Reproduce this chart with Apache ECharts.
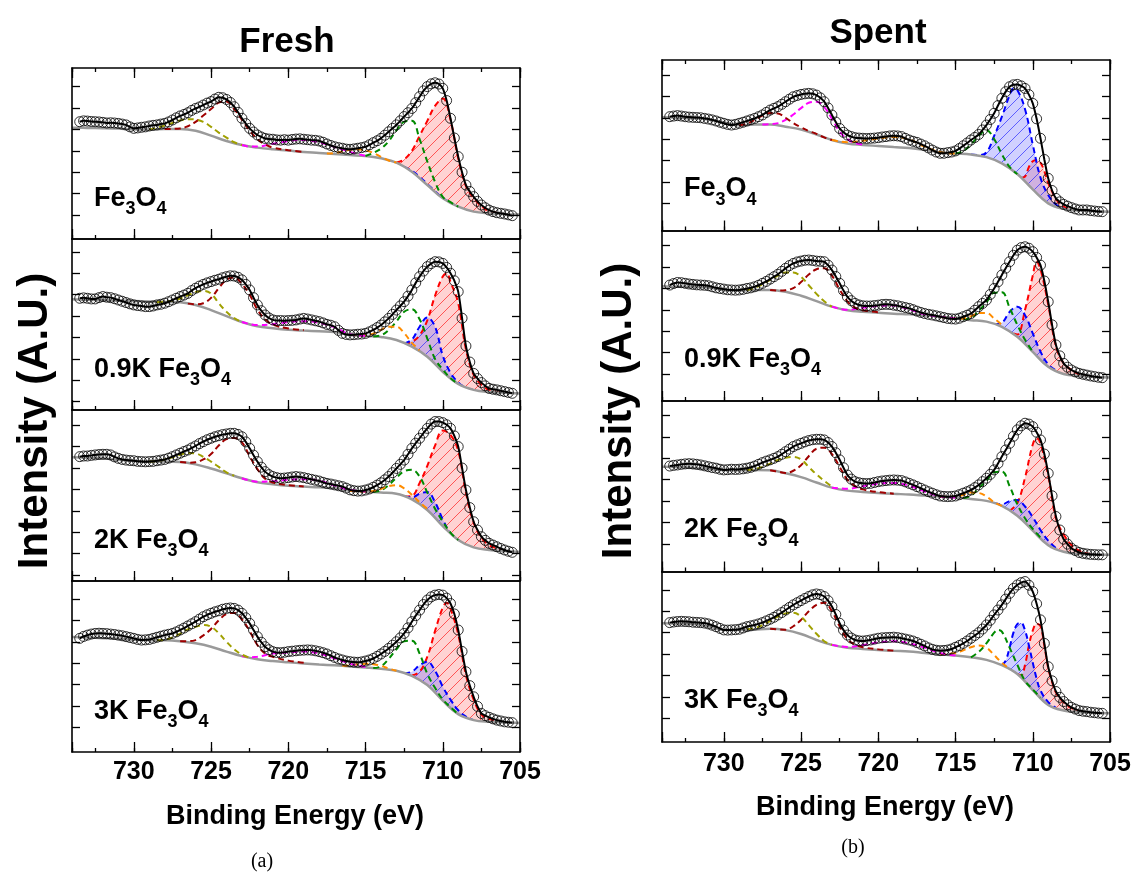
<!DOCTYPE html>
<html><head><meta charset="utf-8">
<script src="https://cdn.jsdelivr.net/npm/echarts@6/dist/echarts.min.js"></script>
<style>html,body{margin:0;padding:0;background:#fff}#c{width:1134px;height:877px}</style>
</head><body><div id="c"></div>
<script>
// ---------- DATA ----------
const dataEnergy = [733.5,733.25,733,732.75,732.5,732.25,732,731.75,731.5,731.25,731,730.75,730.5,730.25,730,729.75,729.5,729.25,729,728.75,728.5,728.25,728,727.75,727.5,727.25,727,726.75,726.5,726.25,726,725.75,725.5,725.25,725,724.75,724.5,724.25,724,723.75,723.5,723.25,723,722.75,722.5,722.25,722,721.75,721.5,721.25,721,720.75,720.5,720.25,720,719.75,719.5,719.25,719,718.75,718.5,718.25,718,717.75,717.5,717.25,717,716.75,716.5,716.25,716,715.75,715.5,715.25,715,714.75,714.5,714.25,714,713.75,713.5,713.25,713,712.75,712.5,712.25,712,711.75,711.5,711.25,711,710.75,710.5,710.25,710,709.75,709.5,709.25,709,708.75,708.5,708.25,708,707.75,707.5,707.25,707,706.75,706.5,706.25,706,705.75,705.5];
const bgEnergy = [734,733,732,731,730,729,728,727,726,725,724,723,722,721,720,719,718,717,716,715,714,713,712,711,710,709,708,707,706,705];
const sampleNames = ['Fe3O4','0.9K Fe3O4','2K Fe3O4','3K Fe3O4'];
const panelTitles = ['Fresh','Spent'];

const freshData = [
 [4.36,4.40,4.39,4.37,4.36,4.35,4.33,4.30,4.31,4.30,4.28,4.25,4.21,4.12,4.05,4.07,4.10,4.12,4.16,4.19,4.21,4.25,4.28,4.35,4.44,4.54,4.63,4.70,4.78,4.89,4.98,5.05,5.14,5.23,5.30,5.42,5.50,5.48,5.40,5.26,5.06,4.80,4.52,4.27,4.05,3.88,3.74,3.65,3.58,3.55,3.54,3.51,3.50,3.52,3.50,3.53,3.55,3.56,3.54,3.52,3.50,3.49,3.46,3.40,3.32,3.25,3.19,3.15,3.12,3.08,3.07,3.09,3.12,3.15,3.19,3.28,3.38,3.47,3.58,3.73,3.89,4.05,4.21,4.40,4.60,4.78,4.98,5.25,5.53,5.80,6.00,6.13,6.18,6.12,5.92,5.35,4.52,3.60,2.73,2.00,1.40,1.10,0.86,0.64,0.47,0.34,0.23,0.16,0.11,0.08,0.05,0.01,-0.03],
 [4.83,4.85,4.83,4.80,4.80,4.86,4.91,4.88,4.86,4.81,4.75,4.69,4.63,4.57,4.52,4.49,4.47,4.44,4.44,4.47,4.52,4.55,4.60,4.67,4.75,4.83,4.91,4.98,5.06,5.19,5.30,5.40,5.48,5.55,5.61,5.67,5.72,5.79,5.84,5.88,5.87,5.81,5.69,5.48,5.22,4.86,4.52,4.25,4.05,3.91,3.82,3.79,3.79,3.78,3.79,3.80,3.82,3.86,3.89,3.86,3.82,3.78,3.74,3.68,3.61,3.57,3.50,3.33,3.19,3.14,3.12,3.13,3.15,3.16,3.19,3.26,3.35,3.46,3.58,3.73,3.89,4.08,4.28,4.47,4.67,4.93,5.22,5.55,5.84,6.10,6.31,6.45,6.54,6.53,6.46,6.27,6.00,5.65,5.14,3.90,2.60,1.85,1.32,1.08,0.89,0.74,0.62,0.58,0.55,0.51,0.47,0.43,0.39],
 [5.53,5.56,5.56,5.59,5.61,5.63,5.64,5.64,5.61,5.52,5.45,5.40,5.37,5.35,5.34,5.31,5.30,5.29,5.30,5.31,5.34,5.37,5.40,5.46,5.53,5.61,5.69,5.77,5.84,5.94,6.03,6.14,6.23,6.32,6.39,6.46,6.51,6.56,6.59,6.62,6.62,6.57,6.46,6.22,5.92,5.60,5.30,5.04,4.83,4.69,4.60,4.55,4.52,4.53,4.55,4.58,4.60,4.58,4.55,4.51,4.47,4.43,4.39,4.33,4.28,4.25,4.21,4.17,4.13,4.06,3.98,3.94,3.92,3.93,3.97,4.02,4.10,4.20,4.31,4.45,4.60,4.78,4.98,5.17,5.37,5.64,5.92,6.16,6.39,6.63,6.85,7.05,7.17,7.17,7.12,7.02,6.85,6.50,6.00,5.00,3.97,3.15,2.49,2.10,1.79,1.62,1.48,1.40,1.32,1.24,1.17,1.11,1.06],
 [4.16,4.25,4.31,4.36,4.39,4.40,4.39,4.38,4.36,4.34,4.31,4.28,4.24,4.20,4.16,4.11,4.08,4.09,4.11,4.16,4.21,4.26,4.31,4.35,4.39,4.46,4.55,4.64,4.74,4.84,4.94,5.06,5.17,5.26,5.33,5.40,5.45,5.52,5.56,5.58,5.56,5.48,5.33,5.12,4.86,4.55,4.24,3.98,3.77,3.63,3.54,3.50,3.49,3.51,3.54,3.56,3.58,3.60,3.61,3.62,3.61,3.58,3.54,3.49,3.43,3.35,3.27,3.20,3.15,3.10,3.07,3.05,3.04,3.06,3.10,3.15,3.22,3.32,3.43,3.55,3.69,3.84,4.00,4.18,4.39,4.65,4.94,5.22,5.48,5.74,5.95,6.10,6.18,6.21,6.18,6.04,5.79,5.30,4.55,3.55,2.60,1.95,1.43,0.98,0.65,0.55,0.47,0.40,0.34,0.30,0.26,0.24,0.22]
];
const spentData = [
 [4.05,4.08,4.10,4.08,4.05,4.03,4.02,4.01,4.00,3.97,3.94,3.90,3.85,3.79,3.74,3.69,3.66,3.69,3.74,3.79,3.85,3.91,3.97,4.05,4.13,4.25,4.36,4.44,4.52,4.63,4.75,4.87,4.98,5.04,5.09,5.12,5.14,5.12,5.06,4.93,4.75,4.46,4.13,3.80,3.50,3.32,3.19,3.12,3.07,3.05,3.04,3.03,3.04,3.05,3.07,3.10,3.12,3.15,3.16,3.15,3.12,3.04,2.96,2.90,2.85,2.77,2.69,2.59,2.49,2.40,2.34,2.34,2.37,2.40,2.45,2.56,2.69,2.82,2.96,3.08,3.22,3.43,3.66,3.92,4.21,4.57,4.91,5.22,5.45,5.54,5.56,5.49,5.37,5.08,4.67,3.95,3.04,2.05,1.17,0.60,0.23,0.07,-0.05,-0.13,-0.20,-0.26,-0.31,-0.31,-0.31,-0.34,-0.36,-0.38,-0.39],
 [4.16,4.23,4.28,4.27,4.24,4.21,4.19,4.17,4.16,4.15,4.13,4.08,4.03,4.00,3.97,3.94,3.93,3.92,3.93,3.96,4.00,4.03,4.08,4.15,4.24,4.33,4.44,4.55,4.66,4.80,4.94,5.07,5.17,5.24,5.28,5.32,5.33,5.31,5.28,5.27,5.25,5.09,4.86,4.56,4.24,3.90,3.61,3.43,3.30,3.23,3.19,3.18,3.18,3.20,3.22,3.25,3.26,3.25,3.22,3.19,3.15,3.11,3.07,3.01,2.94,2.88,2.83,2.79,2.76,2.72,2.68,2.64,2.60,2.58,2.57,2.61,2.68,2.75,2.83,2.98,3.15,3.30,3.46,3.72,4.00,4.31,4.63,4.95,5.25,5.55,5.79,5.91,5.95,5.88,5.72,5.45,5.09,4.35,3.38,2.30,1.36,0.85,0.50,0.32,0.19,0.10,0.03,-0.01,-0.05,-0.09,-0.12,-0.15,-0.17],
 [3.64,3.67,3.69,3.72,3.74,3.75,3.74,3.72,3.69,3.65,3.61,3.57,3.54,3.49,3.46,3.47,3.49,3.48,3.49,3.51,3.54,3.58,3.64,3.72,3.80,3.87,3.93,4.00,4.08,4.19,4.31,4.43,4.55,4.63,4.70,4.77,4.83,4.87,4.89,4.89,4.86,4.74,4.55,4.26,3.93,3.56,3.22,3.03,2.91,2.86,2.83,2.82,2.83,2.87,2.91,2.94,2.96,2.98,2.99,2.98,2.96,2.90,2.83,2.76,2.68,2.60,2.52,2.44,2.37,2.30,2.24,2.22,2.21,2.22,2.24,2.30,2.37,2.44,2.52,2.63,2.76,2.91,3.07,3.25,3.46,3.76,4.08,4.39,4.70,5.03,5.33,5.52,5.64,5.60,5.48,5.22,4.86,4.20,3.30,2.25,1.28,0.65,0.22,-0.01,-0.20,-0.31,-0.40,-0.44,-0.47,-0.49,-0.50,-0.51,-0.51],
 [4.47,4.50,4.52,4.53,4.52,4.51,4.49,4.48,4.47,4.45,4.41,4.35,4.28,4.20,4.13,4.12,4.13,4.14,4.16,4.22,4.28,4.32,4.36,4.41,4.47,4.55,4.63,4.72,4.83,4.94,5.06,5.18,5.30,5.40,5.50,5.60,5.69,5.77,5.81,5.78,5.69,5.50,5.22,4.85,4.44,4.12,3.89,3.75,3.66,3.62,3.61,3.63,3.66,3.70,3.74,3.76,3.77,3.78,3.79,3.77,3.74,3.70,3.66,3.61,3.54,3.46,3.38,3.29,3.22,3.18,3.16,3.17,3.19,3.24,3.32,3.40,3.50,3.61,3.74,3.87,4.00,4.17,4.36,4.58,4.83,5.06,5.30,5.57,5.84,6.07,6.23,6.34,6.39,6.22,5.92,5.35,4.60,3.50,2.41,1.75,1.25,0.98,0.78,0.63,0.51,0.43,0.36,0.33,0.31,0.28,0.26,0.24,0.23]
];

const freshBg = [
 [4.08,4.07,4.06,4.04,4.00,4.00,4.02,4.02,3.94,3.71,3.46,3.27,3.15,3.07,3.01,2.94,2.90,2.85,2.80,2.76,2.65,2.45,2.02,1.40,0.78,0.39,0.16,0.08,0.04,0.02],
 [4.78,4.76,4.74,4.72,4.70,4.68,4.66,4.64,4.52,4.28,4.00,3.72,3.52,3.43,3.36,3.32,3.29,3.26,3.12,3.08,3.02,2.88,2.57,2.10,1.40,0.83,0.55,0.45,0.42,0.38],
 [5.50,5.48,5.45,5.38,5.33,5.30,5.30,5.28,5.17,4.98,4.75,4.52,4.33,4.24,4.17,4.13,4.10,4.05,3.94,3.90,3.85,3.80,3.53,3.04,2.29,1.64,1.29,1.17,1.12,1.08],
 [4.22,4.20,4.17,4.14,4.09,4.07,4.07,4.03,3.93,3.77,3.54,3.33,3.18,3.10,3.04,2.99,2.94,2.90,2.85,2.80,2.74,2.65,2.41,1.98,1.25,0.62,0.34,0.26,0.23,0.21]
];
const spentBg = [
 [4.02,4.00,3.98,3.93,3.78,3.65,3.68,3.68,3.58,3.45,3.22,2.96,2.80,2.73,2.68,2.63,2.59,2.50,2.38,2.33,2.28,2.16,1.87,1.37,0.65,0.00,-0.26,-0.34,-0.37,-0.39],
 [4.10,4.08,4.07,4.05,3.92,3.90,3.93,3.93,3.85,3.66,3.41,3.15,2.98,2.91,2.87,2.82,2.79,2.74,2.68,2.60,2.52,2.45,2.21,1.74,1.04,0.34,0.00,-0.09,-0.14,-0.16],
 [3.61,3.60,3.55,3.50,3.45,3.44,3.45,3.44,3.30,3.12,2.87,2.63,2.49,2.43,2.38,2.34,2.31,2.26,2.21,2.17,2.10,2.01,1.78,1.32,0.62,-0.06,-0.37,-0.47,-0.50,-0.51],
 [4.44,4.42,4.40,4.30,4.12,4.12,4.15,4.18,4.12,3.94,3.66,3.43,3.30,3.24,3.19,3.15,3.12,3.05,2.99,2.93,2.85,2.73,2.48,2.07,1.32,0.62,0.36,0.28,0.25,0.23]
];

// fitted components: [binding energy, intensity]
const freshRed = [
 [[713,2.45],[712.5,2.6],[712,3.0],[711.5,3.7],[711,4.4],[710.5,5.1],[710,5.45],[709.5,4.45],[709,2.65],[708.5,1.35],[708,0.8],[707.5,0.42],[707,0.2],[706.5,0.1],[706,0.04]],
 [[712.5,2.72],[712,2.8],[711.5,3.1],[711,3.8],[710.5,4.95],[710,5.85],[709.75,6.0],[709.5,5.6],[709,4.6],[708.5,2.45],[708,1.25],[707.5,0.8],[707,0.55],[706.5,0.46],[706,0.42]],
 [[712.5,3.67],[712,3.7],[711.5,4.3],[711,5.1],[710.5,6.05],[710,6.75],[709.5,6.55],[709,5.8],[708.5,3.85],[708,2.45],[707.5,1.75],[707,1.4],[706.5,1.25],[706,1.13]],
 [[712,2.42],[711.5,2.6],[711,3.3],[710.5,4.5],[710,5.6],[709.75,5.82],[709.5,5.55],[709,4.35],[708.5,2.45],[708,1.3],[707.5,0.6],[707,0.4],[706.5,0.28],[706,0.23]]
];
const freshBlue = [
 [[712.5,2.26],[712,2.06],[711.5,1.78],[711,1.45],[710.5,1.1],[710,0.8],[709.5,0.58]],
 [[712.5,2.72],[712,2.9],[711.5,3.5],[711,3.93],[710.5,3.5],[710,2.15],[709.5,1.35],[709,0.9],[708.5,0.65],[708,0.55]],
 [[712.5,3.67],[712,3.62],[711.5,3.8],[711,3.88],[710.5,3.4],[710,2.6],[709.5,1.95],[709,1.64],[708.5,1.4],[708,1.29]],
 [[712.5,2.53],[712,2.6],[711.5,2.9],[711,3.07],[710.5,2.65],[710,1.9],[709.5,1.3],[709,0.8],[708.5,0.5],[708,0.34]]
];
const freshGreen = [
 [[715,2.76],[714.5,2.9],[714,3.1],[713.5,3.45],[713,3.95],[712.5,4.35],[712,4.4],[711.5,3.55],[711,2.5],[710.5,1.55],[710,0.85],[709.5,0.6],[709,0.39]],
 [[714.5,3.05],[714,3.1],[713.5,3.35],[713,3.75],[712.5,4.2],[712,4.32],[711.5,3.85],[711,2.95],[710.5,2.0],[710,1.5],[709.5,1.1],[709,0.83]],
 [[714.5,3.88],[714,3.95],[713.5,4.2],[713,4.55],[712.5,4.85],[712,4.92],[711.5,4.6],[711,3.85],[710.5,3.1],[710,2.5],[709.5,1.98],[709,1.64]],
 [[714.5,2.77],[714,2.85],[713.5,3.2],[713,3.65],[712.5,4.02],[712,4.05],[711.5,3.45],[711,2.5],[710.5,1.85],[710,1.3],[709.5,0.95],[709,0.62]]
];
const freshOrange = [
 [[717.5,2.87],[717,2.9],[716.5,2.97],[716,3.05],[715.5,3.07],[715,3.02],[714.5,2.9],[714,2.72],[713.5,2.55],[713,2.45]],
 [[716,3.12],[715,3.1],[714.5,3.18],[714,3.35],[713.5,3.5],[713,3.5],[712.5,3.2],[712,2.75],[711.5,2.4]],
 [[716,3.94],[715,3.9],[714.5,3.92],[714,4.02],[713.5,4.15],[713,4.2],[712.5,4.05],[712,3.75],[711.5,3.4],[711,3.1]],
 [[716.5,2.88],[716,2.9],[715.5,2.95],[715,2.97],[714.5,2.95],[714,2.88],[713.5,2.75],[713,2.65]]
];
const freshMagenta = [
 [[723,3.27],[722.5,3.2],[722,3.2],[721,3.33],[720,3.45],[719.5,3.5],[719,3.5],[718,3.4],[717,3.18],[716,2.95],[715,2.76]],
 [[723,3.72],[722,3.58],[721,3.62],[720,3.72],[719,3.76],[718,3.68],[717,3.48],[716,3.15],[715,3.08]],
 [[723,4.52],[722,4.36],[721,4.38],[720,4.45],[719,4.48],[718,4.4],[717,4.18],[716,3.98],[715,3.9]],
 [[723,3.33],[722.5,3.28],[722,3.3],[721,3.45],[720,3.5],[719,3.55],[718,3.45],[717,3.22],[716,2.98],[715,2.82]]
];
const freshDarkRed = [
 [[728,4.02],[727,4.04],[726.5,4.15],[726,4.35],[725.5,4.65],[725,4.95],[724.5,5.25],[724,5.3],[723.5,4.95],[723,4.45],[722.5,3.95],[722,3.55],[721.5,3.3],[721,3.15],[720,3.03],[719,2.95]],
 [[726.5,4.58],[726,4.55],[725.5,4.6],[725,4.85],[724.5,5.3],[724,5.7],[723.5,5.8],[723,5.5],[722.5,5.0],[722,4.3],[721.5,3.85],[721,3.6],[720,3.42],[719,3.34]],
 [[727,5.28],[726.5,5.25],[726,5.27],[725.5,5.4],[725,5.65],[724.5,6.05],[724,6.35],[723.5,6.4],[723,6.2],[722.5,5.55],[722,4.95],[721.5,4.5],[721,4.32],[720,4.2],[719,4.14]],
 [[727,4.03],[726.5,4.03],[726,4.08],[725.5,4.3],[725,4.6],[724.5,5.0],[724,5.3],[723.5,5.35],[723,5.05],[722.5,4.5],[722,3.85],[721.5,3.45],[721,3.3],[720,3.12],[719,3.02]]
];
const freshOlive = [
 [[729,4.0],[728.5,4.08],[728,4.18],[727.5,4.3],[727,4.42],[726.5,4.48],[726,4.46],[725.5,4.35],[725,4.12],[724.5,3.85],[724,3.62],[723.5,3.4],[723,3.27]],
 [[728.5,4.65],[728,4.68],[727.5,4.72],[727,4.82],[726.5,4.97],[726,5.12],[725.5,5.18],[725,5.05],[724.5,4.6],[724,4.2],[723.5,3.9],[723,3.72]],
 [[729,5.3],[728.5,5.33],[728,5.4],[727.5,5.5],[727,5.62],[726.5,5.7],[726,5.68],[725.5,5.52],[725,5.3],[724.5,5.05],[724,4.8],[723.5,4.64]],
 [[728.5,4.07],[728,4.1],[727.5,4.2],[727,4.38],[726.5,4.58],[726,4.7],[725.5,4.78],[725,4.7],[724.5,4.4],[724,4.0],[723.5,3.65],[723,3.4],[722.5,3.25]]
];

const spentRed = [
 [[710.75,1.2],[710.5,1.25],[710.25,1.7],[710,1.97],[709.75,2.03],[709.5,1.9],[709.25,1.5],[709,0.95],[708.75,0.55],[708.5,0.2],[708,-0.15],[707.5,-0.3],[707,-0.34]],
 [[711.25,1.9],[711,1.85],[710.5,3.0],[710,4.6],[709.75,5.25],[709.5,4.9],[709,3.25],[708.5,1.3],[708,0.5],[707.5,0.2],[707,0.0],[706.5,-0.1],[706,-0.14]],
 [[711.5,1.55],[711,1.9],[710.5,3.1],[710,4.65],[709.75,4.95],[709.5,4.7],[709,3.2],[708.5,1.2],[708,0.45],[707.5,-0.05],[707,-0.32],[706.5,-0.45],[706,-0.5]],
 [[711,2.07],[710.75,2.0],[710.5,2.5],[710.25,3.4],[710,4.1],[709.75,4.42],[709.5,4.3],[709.25,3.4],[709,2.35],[708.75,1.7],[708.5,1.2],[708,0.75],[707.5,0.48],[707,0.33],[706.5,0.27]]
];
const spentBlue = [
 [[714,2.28],[713.5,2.26],[713,2.38],[712.5,3.15],[712,4.05],[711.5,5.05],[711.25,5.37],[711,5.3],[710.5,4.4],[710,2.75],[709.5,1.2],[709,0.39],[708.5,-0.05],[708,-0.25],[707.5,-0.33],[707,-0.35]],
 [[712.5,2.33],[712,2.4],[711.5,2.9],[711,3.15],[710.5,2.75],[710,1.9],[709.5,1.05],[709,0.45],[708.5,0.17]],
 [[712.5,1.9],[712,1.85],[711.5,2.0],[711,2.05],[710.5,1.75],[710,1.25],[709.5,0.65],[709,0.15],[708.5,-0.2]],
 [[712,2.48],[711.75,2.7],[711.5,3.3],[711.25,4.0],[711,4.4],[710.75,4.45],[710.5,4.1],[710.25,3.4],[710,2.6],[709.75,1.85],[709.5,1.3],[709,0.75],[708.5,0.49]]
];
const spentGreen = [
 [[715,2.33],[714.5,2.45],[714,2.75],[713.5,3.15],[713,3.42],[712.5,3.0],[712,2.3],[711.5,1.7],[711,1.37]],
 [[714.5,2.56],[714,2.62],[713.5,2.95],[713,3.35],[712.5,3.8],[712,3.82],[711.5,3.1],[711,2.3],[710.5,1.6],[710,1.05]],
 [[714.5,2.14],[714,2.25],[713.5,2.6],[713,2.95],[712.5,3.35],[712,3.38],[711.5,2.7],[711,1.85],[710.5,1.2],[710,0.7],[709.5,0.3]],
 [[714,2.85],[713.5,3.1],[713,3.5],[712.5,4.0],[712.25,4.13],[712,4.05],[711.5,3.3],[711,2.5],[710.5,1.75],[710,1.35],[709.5,0.97]]
];
const spentOrange = [
 [[723,2.96],[722,2.86],[721,2.92],[720,3.03],[719,3.1],[718,2.98],[717,2.65],[716,2.4],[715,2.33]],
 [[716,2.68],[715,2.6],[714.5,2.6],[714,2.7],[713.5,2.85],[713,2.85],[712.5,2.6],[712,2.3]],
 [[716,2.21],[715,2.2],[714.5,2.3],[714,2.4],[713.5,2.38],[713,2.22],[712.5,1.95],[712,1.78]],
 [[716,2.99],[715,3.05],[714.5,3.18],[714,3.32],[713.5,3.4],[713,3.3],[712.5,2.95],[712,2.6],[711.5,2.3]]
];
const spentMagenta = [
 [[727.5,3.68],[727,3.7],[726.5,3.75],[726,3.9],[725.5,4.15],[725,4.45],[724.5,4.7],[724,4.75],[723.5,4.5],[723,3.95],[722.5,3.35],[722,3.0],[721.5,2.82],[721,2.75]],
 [[723,3.15],[722,3.0],[721,3.1],[720,3.18],[719,3.2],[718,3.02],[717,2.8],[716,2.68],[715,2.6]],
 [[723,2.63],[722,2.58],[721,2.7],[720,2.82],[719,2.85],[718,2.72],[717,2.45],[716,2.23],[715,2.17]],
 [[723,3.43],[722,3.33],[721,3.42],[720,3.55],[719,3.6],[718,3.5],[717,3.3],[716,3.05],[715,2.93]]
];
const spentDarkRed = [
 [[729,3.65],[728.5,3.72],[728,3.9],[727.5,4.1],[727,4.22],[726.5,4.2],[726,4.0],[725.5,3.75],[725,3.55],[724.5,3.38],[724,3.25],[723.5,3.08],[723,2.96]],
 [[727,3.93],[726.5,3.9],[726,3.92],[725.5,4.02],[725,4.3],[724.5,4.65],[724,4.9],[723.5,4.95],[723,4.6],[722.5,3.95],[722,3.4],[721.5,3.1],[721,2.98],[720,2.89]],
 [[727,3.44],[726.5,3.38],[726,3.32],[725.5,3.42],[725,3.68],[724.5,4.1],[724,4.45],[723.5,4.5],[723,4.2],[722.5,3.6],[722,3.0],[721.5,2.7],[721,2.55],[720,2.42],[719,2.35]],
 [[727,4.18],[726.5,4.15],[726,4.14],[725.5,4.3],[725,4.6],[724.5,5.0],[724,5.3],[723.5,5.4],[723,5.0],[722.5,4.3],[722,3.7],[721.5,3.45],[721,3.32],[720,3.22],[719,3.16]]
];
const spentOlive = [
 [],
 [[728.5,3.93],[728,4.02],[727.5,4.2],[727,4.4],[726.5,4.6],[726,4.75],[725.5,4.75],[725,4.55],[724.5,4.15],[724,3.75],[723.5,3.4],[723,3.15]],
 [[728.5,3.45],[728,3.5],[727.5,3.6],[727,3.75],[726.5,3.92],[726,4.03],[725.5,4.07],[725,3.95],[724.5,3.6],[724,3.25],[723.5,2.95],[723,2.68]],
 [[728.5,4.16],[728,4.22],[727.5,4.35],[727,4.55],[726.5,4.75],[726,4.9],[725.5,4.93],[725,4.75],[724.5,4.35],[724,3.95],[723.5,3.6],[723,3.43]]
];

// ---------- STYLE / LAYOUT ----------
const FONT = '"Liberation Sans", Arial, Helvetica, sans-serif';
const COL = {red:'#ff0000', blue:'#0000ff', green:'#008a00', orange:'#ff8c00', magenta:'#ff00ff', darkred:'#a00000', olive:'#a0a000'};

function hatch(fill, stroke) {
  const s = 12, c = document.createElement('canvas'); c.width = s; c.height = s;
  const g = c.getContext('2d');
  g.fillStyle = fill; g.fillRect(0, 0, s, s);
  g.strokeStyle = stroke; g.lineWidth = 1;
  g.beginPath();
  g.moveTo(0, s); g.lineTo(s, 0);
  g.moveTo(-s/2, s/2); g.lineTo(s/2, -s/2);
  g.moveTo(s/2, s*1.5); g.lineTo(s*1.5, s/2);
  g.stroke();
  return c;
}
const redHatch = hatch('rgba(255,110,110,0.30)', 'rgba(255,70,70,0.9)');
const blueHatch = hatch('rgba(100,100,255,0.30)', 'rgba(80,80,255,0.9)');

const panels = [
  {left:72, tops:[68,239,410,581], h:171, yMin:[-1.12,-0.39,-0.28,-1.15], yMax:[6.87,7.60,7.71,6.84], yTop:[6,7,7,6],
   data:freshData, bg:freshBg, red:freshRed, blue:freshBlue, others:{green:freshGreen, orange:freshOrange, magenta:freshMagenta, darkred:freshDarkRed, olive:freshOlive}, lblOff:130.5, lblMargin:8},
  {left:662, tops:[60,230.5,401,571.5], h:170.5, yMin:[-1.27,-1.26,-1.29,-1.11], yMax:[6.70,6.71,6.68,6.86], yTop:[6,6,6,6],
   data:spentData, bg:spentBg, red:spentRed, blue:spentBlue, others:{green:spentGreen, orange:spentOrange, magenta:spentMagenta, darkred:spentDarkRed, olive:spentOlive}, lblOff:129, lblMargin:10}
];

const option = {animation:false, backgroundColor:'#fff', grid:[], xAxis:[], yAxis:[], series:[], graphic:[]};
const axLine = {show:true, onZero:false, lineStyle:{color:'#000', width:1.6}};
const tickStyle = {color:'#000', width:1.3};

function addLabel(str, x, yc) {
  const ctx = document.createElement('canvas').getContext('2d');
  const items = []; let cur = '';
  for (let k = 0; k < str.length; k++) {
    const ch = str[k];
    const sub = /\d/.test(ch) && k > 0 && /[A-Za-z]/.test(str[k-1]);
    if (sub) { if (cur) items.push({t:cur, sub:false}); cur = ''; items.push({t:ch, sub:true}); }
    else cur += ch;
  }
  if (cur) items.push({t:cur, sub:false});
  let cx = x;
  items.forEach(it => {
    const font = 'bold ' + (it.sub ? 18 : 27) + 'px ' + FONT;
    ctx.font = font;
    const w = ctx.measureText(it.t).width;
    option.graphic.push({type:'text', x:cx, y: it.sub ? yc + 11 : yc, z:20, silent:true,
      style:{text:it.t, font:font, fill:'#000', textAlign:'left', textVerticalAlign:'middle', align:'left', verticalAlign:'middle'}});
    cx += w;
  });
}

panels.forEach(p => {
  for (let i = 0; i < 4; i++) {
    const gi = option.grid.length;
    option.grid.push({left:p.left, top:p.tops[i], width:448, height:p.h, containLabel:false, outerBoundsMode:'none'});
    const xi = option.xAxis.length, yi = option.yAxis.length;
    const xb = {type:'value', gridIndex:gi, min:705, max:734, inverse:true, splitLine:{show:false}, z:10};
    option.xAxis.push(Object.assign({}, xb, {position:'bottom', interval:5, axisLine:axLine,
      axisTick:{show:true, inside:true, length:10, lineStyle:tickStyle},
      axisLabel:{show:i===3, formatter:v => (v % 5 === 0 ? String(v) : ''), fontSize:25, fontWeight:'bold', color:'#000', fontFamily:FONT, margin:p.lblMargin}}));
    option.xAxis.push(Object.assign({}, xb, {position:'bottom', interval:2.5, axisLine:{show:false, onZero:false},
      axisTick:{show:true, inside:true, length:4, lineStyle:tickStyle}, axisLabel:{show:false}}));
    option.xAxis.push(Object.assign({}, xb, {position:'top', interval:5, axisLine:axLine,
      axisTick:{show:i===0, inside:true, length:10, lineStyle:tickStyle}, axisLabel:{show:false}}));
    option.xAxis.push(Object.assign({}, xb, {position:'top', interval:2.5, axisLine:{show:false, onZero:false},
      axisTick:{show:i===0, inside:true, length:4, lineStyle:tickStyle}, axisLabel:{show:false}}));
    const ticks = []; for (let t = 0; t <= p.yTop[i]; t++) ticks.push(t);
    ['left','right'].forEach(pos => option.yAxis.push({type:'value', gridIndex:gi, position:pos, min:p.yMin[i], max:p.yMax[i],
      axisLine:axLine, axisTick:{show:true, inside:true, length:8, customValues:ticks, lineStyle:tickStyle},
      axisLabel:{show:false, customValues:ticks}, splitLine:{show:false}, z:10}));

    const base = {type:'line', xAxisIndex:xi, yAxisIndex:yi, symbol:'none', smooth:0.4, silent:true};
    const dash = [6,4];
    option.series.push(Object.assign({}, base, {data:p.red[i], z:2,
      lineStyle:{color:COL.red, width:2, type:dash}, areaStyle:{color:{image:redHatch, repeat:'repeat'}, origin:'start', opacity:1}}));
    option.series.push(Object.assign({}, base, {data:p.blue[i], z:2,
      lineStyle:{color:COL.blue, width:2, type:dash}, areaStyle:{color:{image:blueHatch, repeat:'repeat'}, origin:'start', opacity:1}}));
    option.series.push(Object.assign({}, base, {data:bgEnergy.map((e,k) => [e, p.bg[i][k]]), z:3,
      lineStyle:{color:'#9a9a9a', width:2.5}, areaStyle:{color:'#ffffff', origin:'start', opacity:1}}));
    Object.keys(p.others).forEach(k => {
      if (!p.others[k][i].length) return;
      option.series.push(Object.assign({}, base, {data:p.others[k][i], z:4, lineStyle:{color:COL[k], width:2, type:dash}}));
    });
    const pts = dataEnergy.map((e,k) => [e, p.data[i][k]]);
    option.series.push(Object.assign({}, base, {data:pts, z:5, smooth:0.3, lineStyle:{color:'#000', width:2}}));
    option.series.push({type:'scatter', xAxisIndex:xi, yAxisIndex:yi, data:pts, z:6, silent:true, symbol:'circle', symbolSize:10,
      itemStyle:{color:'rgba(255,255,255,0)', borderColor:'#000', borderWidth:1}});

    addLabel(sampleNames[i], p.left + 22, p.tops[i] + p.lblOff);
  }
});

function txt(s, x, y, font, rot) {
  option.graphic.push({type:'text', x:x, y:y, rotation:rot || 0, z:20, silent:true,
    style:{text:s, font:font, fill:'#000', textAlign:'center', textVerticalAlign:'middle', align:'center', verticalAlign:'middle'}});
}
txt(panelTitles[0], 287, 42, 'bold 35px ' + FONT);
txt(panelTitles[1], 878, 33, 'bold 35px ' + FONT);
txt('Intensity (A.U.)', 35, 421, 'bold 42px ' + FONT, Math.PI/2);
txt('Intensity (A.U.)', 619, 411, 'bold 42px ' + FONT, Math.PI/2);
txt('Binding Energy (eV)', 295, 817, 'bold 27px ' + FONT);
txt('Binding Energy (eV)', 885, 808, 'bold 27px ' + FONT);
txt('(a)', 262, 862, '20px "Liberation Serif", "Times New Roman", serif');
txt('(b)', 853, 848, '20px "Liberation Serif", "Times New Roman", serif');

const chart = echarts.init(document.getElementById('c'), null, {renderer:'canvas'});
chart.setOption(option);
</script>
</body></html>
